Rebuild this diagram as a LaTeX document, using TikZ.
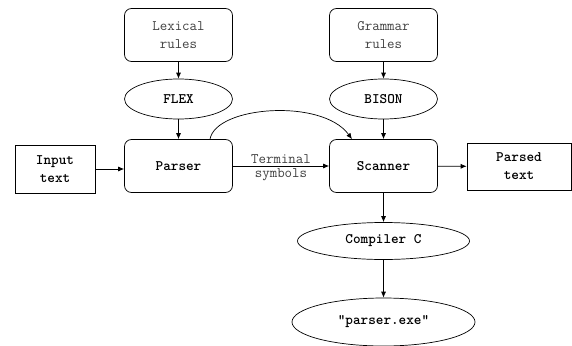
\documentclass[tikz,border=0pt]{standalone}
\usepackage{fontspec}
\usetikzlibrary{arrows.meta,shapes.geometric}

\begin{document}
\begin{tikzpicture}[
  x=1pt, y=-1pt,
  every node/.style={font=\fontsize{14.5}{18}\selectfont\ttfamily, align=center},
  rulebox/.style={rectangle, rounded corners=7pt, draw, line width=0.7pt,
    minimum width=108pt, minimum height=53pt, inner sep=1pt, text=black!75},
  stagebox/.style={rectangle, rounded corners=7pt, draw, line width=0.7pt,
    minimum width=108pt, minimum height=53pt, inner sep=1pt,
    font=\fontsize{14.5}{18}\selectfont\ttfamily\bfseries},
  iobox/.style={rectangle, draw, line width=0.7pt, inner sep=1pt,
    font=\fontsize{14.5}{18}\selectfont\ttfamily\bfseries},
  tool/.style={ellipse, draw, line width=0.7pt, inner sep=0pt,
    font=\fontsize{14.5}{18}\selectfont\ttfamily\bfseries},
  flow/.style={draw, line width=0.7pt, -{Latex[length=6pt,width=5pt]}}
]
  \useasboundingbox (0,0) rectangle (572,345);

  % Lexical side.
  \node[rulebox] (lex) at (178.5,35) {Lexical\\rules};
  \node[tool, minimum width=108pt, minimum height=40pt] (flex) at (178.5,99) {FLEX};
  \node[stagebox] (parser) at (178.5,166) {Parser};
  \node[iobox, minimum width=80pt, minimum height=48pt] (input) at (55,169) {Input\\text};

  % Grammar side.
  \node[rulebox] (gram) at (383.5,35) {Grammar\\rules};
  \node[tool, minimum width=108pt, minimum height=40pt] (bison) at (383.5,99) {BISON};
  \node[stagebox] (scanner) at (383.5,166) {Scanner};
  \node[iobox, minimum width=104pt, minimum height=47pt] (parsed) at (519,166.5) {Parsed\\text};

  % Build chain.
  \node[tool, minimum width=172pt, minimum height=37pt] (cc) at (383.5,241) {Compiler C};
  \node[tool, minimum width=183pt, minimum height=48pt] (exe) at (383.5,322) {"parser.exe"};

  \draw[flow] (lex)--(flex);
  \draw[flow] (flex)--(parser);
  \draw[flow] (gram)--(bison);
  \draw[flow] (bison)--(scanner);
  \draw[flow] (input)--(input-|parser.west);
  \draw[flow] (parser)--(scanner)
    node[midway, above=-1.5pt, text=black!75] (term) {Terminal}
    node[midway, below=-1.5pt, text=black!75] (symb) {symbols};
  \draw[flow] (scanner)--(parsed);
  \draw[flow] (scanner)--(cc);
  \draw[flow] (cc)--(exe);
  \coordinate (loopa) at ([xshift=31.5pt]parser.north);
  \coordinate (loopb) at ([xshift=-31.5pt]scanner.north);
  \draw[flow] (loopa) .. controls (216,106) and (322,98) .. (loopb);
\end{tikzpicture}
\end{document}
